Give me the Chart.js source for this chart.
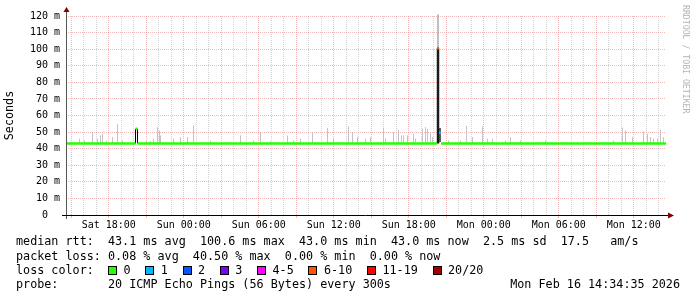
<!DOCTYPE html>
<html><head><meta charset="utf-8">
<script src="https://cdn.jsdelivr.net/npm/chart.js@4/dist/chart.umd.min.js"></script>
<style>
html,body{margin:0;padding:0;background:#fff;}
#wrap{position:relative;width:697px;height:297px;overflow:hidden;background:#fff;}
canvas{position:absolute;left:0;top:0;}
.t{position:absolute;left:16px;font-family:'DejaVu Sans Mono',monospace;font-size:11.76px;line-height:14px;white-space:pre;color:#000;}
.item{display:inline-block;}
.box{display:inline-block;width:9px;height:9px;border:1px solid #000;box-sizing:border-box;vertical-align:-1px;}
.lab{display:inline-block;margin-left:6.5px;margin-right:14.7px;}
#wm{position:absolute;left:681px;top:5px;writing-mode:vertical-rl;font-family:'DejaVu Sans Mono',monospace;font-size:8.2px;line-height:10px;color:#b4b4b4;white-space:pre;}
</style></head>
<body>
<div id="wrap">
<canvas id="c" width="697" height="297"></canvas>
<div class="t" id="l1" style="top:234px"></div>
<div class="t" id="l2" style="top:249px"></div>
<div class="t" id="l3" style="top:263px"></div>
<div class="t" id="l4" style="top:277px"></div>
<div class="t" id="l4r" style="top:277px;left:auto;right:17px"></div>
<div id="wm">RRDTOOL / TOBI OETIKER</div>
</div>
<script>
// ---- data (x in hours since graph start, Sat 14:34:35; y in ms) ----
const startClock = 14 + 34/60 + 35/3600;
const xTickClock = [18, 24, 30, 36, 42, 48, 54, 60];
const xTickLabels = ['Sat 18:00','Sun 00:00','Sun 06:00','Sun 12:00','Sun 18:00','Mon 00:00','Mon 06:00','Mon 12:00'];

const medianBase = 43.1;
// smoke spikes (top of ping spread)
const smokeX = [1.08,1.48,2.12,2.52,2.76,2.92,3.24,3.72,4.12,4.52,6.44,6.76,7.00,7.32,7.48,7.56,8.60,9.16,9.72,10.20,11.56,13.96,15.00,
  15.56,16.36,17.72,18.20,18.76,19.72,20.92,21.40,22.60,22.92,23.32,23.96,24.36,25.40,25.56,26.20,26.60,26.84,27.00,27.32,27.80,27.96,28.52,28.76,28.92,29.16,29.32,
  30.60,31.56,32.04,32.52,33.32,33.72,34.12,35.16,35.56,36.36,38.36,43.80,44.52,44.76,45.32,46.20,46.52,46.76,47.00,47.32,47.56,47.80];
const smokeTop = [46,45,50,46,48,49,45,47,55,45,45,44.5,46,53,51,48,46,47,47,54,45,48,45,
  50,44.5,48,45,46,50,52.6,46,53.4,50,47,46,47,52.6,46,50,51.4,48,48,48,49,46,52,53,52,50,47,
  45,45,53.8,47,53.4,46,46,45,47,45,45,45,52.8,51,47,50.4,49,47,46,46,51.5,47];

// median rtt steps with loss bucket index
const medianStart = [0, 5.56, 5.72, 29.68, 29.84, 30.00];
const medianEnd   = [5.56, 5.72, 29.68, 29.84, 30.00, 48];
const medianValue = [43.1, 52, 43.1, 100.6, 49.6, 43.1];
const medianLoss  = [0, 0, 0, 5, 1, 0];

// dark transition lines
const darkX = [5.56, 5.72, 29.76];
const darkLow = [43.1, 43.1, 43.1];
const darkHigh = [52, 52, 100.6];
// mid-gray spread around the loss event
const spreadX = [29.76, 29.92];
const spreadLow = [100.6, 44];
const spreadHigh = [121, 52.5];

const lossLabels = ['0','1','2','3','4-5','6-10','11-19','20/20'];
const lossColors = ['#26ff00','#00b8ff','#0059ff','#7e00ff','#ff00ff','#ff5500','#ff0000','#a10000'];

const statLines = [
  'median rtt:  43.1 ms avg  100.6 ms max  43.0 ms min  43.0 ms now  2.5 ms sd  17.5   am/s',
  'packet loss: 0.08 % avg  40.50 % max  0.00 % min  0.00 % now',
  'loss color:  ',
  'probe:       20 ICMP Echo Pings (56 Bytes) every 300s'
];
const dateStamp = 'Mon Feb 16 14:34:35 2026';

// ---- text ----
document.getElementById('l1').textContent = statLines[0];
document.getElementById('l2').textContent = statLines[1];
const l3 = document.getElementById('l3');
l3.textContent = statLines[2];
lossLabels.forEach((lb, i) => {
  const it = document.createElement('span'); it.className = 'item';
  const b = document.createElement('span'); b.className = 'box'; b.style.background = lossColors[i];
  const s = document.createElement('span'); s.className = 'lab'; s.textContent = lb;
  it.appendChild(b); it.appendChild(s); l3.appendChild(it);
});
document.getElementById('l4').textContent = statLines[3];
document.getElementById('l4r').textContent = dateStamp;

// ---- datasets ----
function vlines(xs, lows, highs) {
  const pts = [];
  xs.forEach((x, i) => { pts.push({x, y: lows[i]}, {x, y: highs[i]}, {x, y: null}); });
  return pts;
}
const datasets = [];
datasets.push({data: vlines(smokeX, smokeX.map(() => medianBase), smokeTop), borderColor: '#c4c4c4', borderWidth: 1, order: 3});
datasets.push({data: vlines(spreadX.slice(0,1), spreadLow.slice(0,1), spreadHigh.slice(0,1)), borderColor: '#808080', borderWidth: 1, order: 2, clip: false});
datasets.push({data: vlines(spreadX.slice(1), spreadLow.slice(1), spreadHigh.slice(1)), borderColor: '#606060', borderWidth: 2, order: 2});
datasets.push({data: vlines(darkX.slice(0,2), darkLow.slice(0,2), darkHigh.slice(0,2)), borderColor: '#000000', borderWidth: 1, order: 1});
datasets.push({data: vlines(darkX.slice(2), darkLow.slice(2), darkHigh.slice(2)), borderColor: '#1a1a1a', borderWidth: 2.5, order: 1});
medianStart.forEach((s, i) => {
  datasets.push({data: [{x: s, y: medianValue[i]}, {x: medianEnd[i], y: medianValue[i]}], borderColor: lossColors[medianLoss[i]], borderWidth: 2.5, order: 0});
});
datasets.forEach(d => { d.pointRadius = 0; d.tension = 0; d.spanGaps = false; d.borderCapStyle = 'butt'; });

const MONO = "'DejaVu Sans Mono', monospace";
const majorGrid = 'rgba(225,90,90,0.42)';
const minorGrid = 'rgba(150,150,150,0.42)';

const axesPlugin = {
  id: 'rrdAxes',
  afterDraw(chart) {
    const {ctx, chartArea: a} = chart;
    ctx.save();
    ctx.lineWidth = 1;
    ctx.strokeStyle = '#555';
    ctx.beginPath(); ctx.moveTo(a.left + 0.5, a.bottom + 4); ctx.lineTo(a.left + 0.5, a.top - 6); ctx.stroke();
    ctx.strokeStyle = '#000';
    ctx.beginPath(); ctx.moveTo(a.left - 4, a.bottom + 0.5); ctx.lineTo(a.right + 3, a.bottom + 0.5); ctx.stroke();
    ctx.fillStyle = '#7f0000';
    ctx.beginPath(); ctx.moveTo(a.left - 2.5, a.top - 4); ctx.lineTo(a.left + 3.5, a.top - 4); ctx.lineTo(a.left + 0.5, a.top - 9); ctx.closePath(); ctx.fill();
    ctx.beginPath(); ctx.moveTo(a.right + 2, a.bottom - 2.5); ctx.lineTo(a.right + 2, a.bottom + 3.5); ctx.lineTo(a.right + 8, a.bottom + 0.5); ctx.closePath(); ctx.fill();
    ctx.restore();
  }
};

const hourTicks = [];
for (let c = Math.ceil(startClock); c <= startClock + 48; c++) hourTicks.push(c - startClock);

new Chart(document.getElementById('c'), {
  type: 'line',
  data: {datasets},
  options: {
    responsive: false, animation: false, devicePixelRatio: 1,
    events: [],
    layout: {padding: {left: 0, top: 16, right: 31, bottom: 0}},
    plugins: {legend: {display: false}, tooltip: {enabled: false}},
    scales: {
      x: {
        type: 'linear', min: 0, max: 48, offset: false,
        afterBuildTicks: s => { s.ticks = hourTicks.map(v => ({value: v})); },
        afterFit: s => { s.height = 82; },
        grid: {
          color: c => (Math.round(c.tick.value + startClock) % 3 === 0 ? majorGrid : minorGrid),
          tickColor: c => (Math.round(c.tick.value + startClock) % 3 === 0 ? majorGrid : 'rgba(0,0,0,0)'),
          lineWidth: 1, drawTicks: true, tickLength: 3
        },
        border: {display: false, dash: [1, 1]},
        ticks: {
          autoSkip: false, maxRotation: 0, minRotation: 0, padding: 1, color: '#000',
          font: {family: MONO, size: 10},
          callback: v => { const c = Math.round(v + startClock); const k = xTickClock.indexOf(c); return k >= 0 ? xTickLabels[k] : ''; }
        }
      },
      y: {
        type: 'linear', min: 0, max: 120,
        afterFit: s => { s.width = 66; },
        grid: {color: c => (c.tick.value % 10 === 0 ? majorGrid : minorGrid), lineWidth: 1, drawTicks: false},
        border: {display: false, dash: [1, 1]},
        ticks: {
          stepSize: 5, padding: 6, color: '#000', font: {family: MONO, size: 10},
          callback: v => (v % 10 !== 0 ? '' : (v === 0 ? '0  ' : v + ' m'))
        },
        title: {display: true, text: 'Seconds', color: '#000', font: {family: MONO, size: 11.76}, padding: {top: 3, bottom: 0}}
      }
    }
  },
  plugins: [axesPlugin]
});
</script>
</body></html>
